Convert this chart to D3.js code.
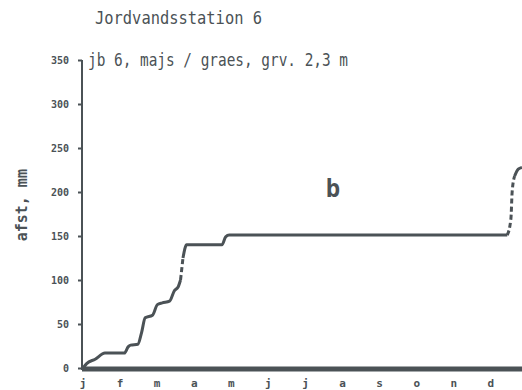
<!DOCTYPE html>
<html>
<head>
<meta charset="utf-8">
<script src="https://cdn.jsdelivr.net/npm/d3@7"></script>
<style>
  html, body { margin: 0; padding: 0; background: #fff; }
  svg text { font-family: "DejaVu Sans Mono", monospace; fill: #4b5256; }
</style>
</head>
<body>
<svg id="chart" width="522" height="390"></svg>
<script>
// Soil water station 6: accumulated drainage (mm) through the year
const title = "Jordvandsstation 6";
const subtitle = "jb 6, majs / graes, grv. 2,3 m";
const yLabel = "afst, mm";
const curveLabel = "b";
const months = ["j", "f", "m", "a", "m", "j", "j", "a", "s", "o", "n", "d"];
const yTicks = [0, 50, 100, 150, 200, 250, 300, 350];

// day of year and accumulated drainage (mm)
const days   = [0, 3, 10, 18, 34, 37, 39, 45, 48, 51, 57, 61, 65, 71, 75, 78, 80, 82, 85, 114, 117, 120, 348, 351, 352, 354, 357, 360];
const values = [0, 5, 10, 17, 17, 24, 26, 27, 40, 57, 60, 72, 74, 76, 88, 92, 100, 125, 140, 140, 149, 151, 151, 170, 200, 218, 226, 228];

const ink = "#4b5256";
const svg = d3.select("#chart");

const x = d3.scaleLinear().domain([0, 365]).range([83, 528]);
const y = d3.scaleLinear().domain([0, 350]).range([368, 60]);

// title and subtitle
svg.append("text").attr("x", 95).attr("y", 24)
  .attr("font-size", 17).attr("textLength", 167).attr("lengthAdjust", "spacingAndGlyphs")
  .text(title);
svg.append("text").attr("x", 88).attr("y", 66)
  .attr("font-size", 17).attr("textLength", 260).attr("lengthAdjust", "spacingAndGlyphs")
  .text(subtitle);

// y axis
const yAxis = d3.axisLeft(y).tickValues(yTicks).tickSize(4).tickPadding(9).tickFormat(d3.format("d"));
const gy = svg.append("g").attr("transform", "translate(82,0)").call(yAxis);
gy.select(".domain").attr("stroke", ink).attr("stroke-width", 2)
  .attr("d", `M0,${y(350)}V${y(0) + 2}`);
gy.selectAll(".tick line").attr("stroke", ink).attr("stroke-width", 2);
gy.selectAll(".tick text").attr("fill", ink).attr("font-size", 10).attr("font-weight", "bold")
  .attr("font-family", "DejaVu Sans Condensed, sans-serif")
  .attr("dy", "0.35em");

// y axis title
svg.append("text")
  .attr("transform", `translate(27,${y(185)}) rotate(-90)`)
  .attr("text-anchor", "middle").attr("font-size", 15).attr("font-weight", "bold")
  .text(yLabel);

// x axis: thick baseline with month initials
const xm = d3.scaleBand().domain(d3.range(12)).range([x(0), x(365)]).align(0);
svg.append("line").attr("x1", 82).attr("x2", 522).attr("y1", y(0) + 1).attr("y2", y(0) + 1)
  .attr("stroke", ink).attr("stroke-width", 5);
svg.append("g").selectAll("text").data(months).join("text")
  .attr("x", (d, i) => xm(i)).attr("y", 387)
  .attr("text-anchor", "middle").attr("font-size", 11).attr("font-weight", "bold")
  .text(d => d);

// drainage curve: gentle stretches solid, steep rises drawn dashed
const pts = days.map((d, i) => [x(d), y(values[i])]);
const line = d3.line().curve(d3.curveMonotoneX);
const segs = [];
for (let i = 1; i < pts.length; i++) {
  const slope = (values[i] - values[i - 1]) / Math.max(days[i] - days[i - 1], 0.1);
  const steep = slope > 6;
  const last = segs[segs.length - 1];
  if (last && last.steep === steep) last.p.push(pts[i]);
  else segs.push({ steep, p: [pts[i - 1], pts[i]] });
}
svg.append("g").selectAll("path").data(segs).join("path")
  .attr("d", s => line(s.p))
  .attr("fill", "none").attr("stroke", ink).attr("stroke-width", 3)
  .attr("stroke-dasharray", s => s.steep ? "5,3" : null);

// curve label
svg.append("text").attr("x", x(205)).attr("y", y(194))
  .attr("text-anchor", "middle").attr("font-size", 24).attr("font-weight", "bold")
  .attr("font-family", "DejaVu Sans, sans-serif")
  .text(curveLabel);
</script>
</body>
</html>
